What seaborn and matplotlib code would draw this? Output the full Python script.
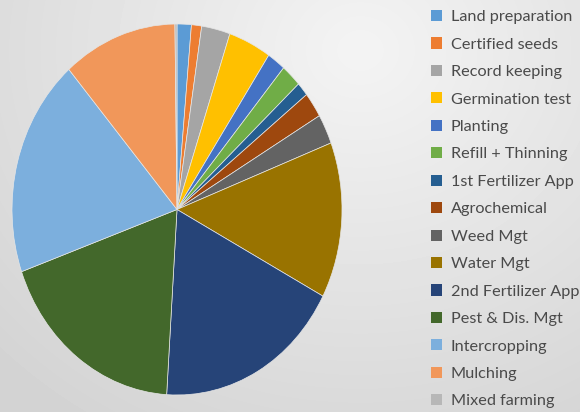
import numpy as np
import matplotlib.pyplot as plt
import matplotlib.patches as mpatches
import seaborn as sns

plt.switch_backend('agg')

activities = ['Land preparation', 'Certified seeds', 'Record keeping', 'Germination test',
              'Planting', 'Refill + Thinning', '1st Fertilizer App', 'Agrochemical',
              'Weed Mgt', 'Water Mgt', '2nd Fertilizer App', 'Pest & Dis. Mgt',
              'Intercropping', 'Mulching', 'Mixed farming']
shares = [1.4, 1.0, 2.8, 4.2, 1.8, 2.0, 1.2, 2.2, 2.6, 13.6, 18.3, 18.6, 19.1, 11.2, 0.2]
colors = ['#5B9BD5', '#ED7D31', '#A5A5A5', '#FFC000', '#4472C4', '#70AD47', '#255E91',
          '#9E480E', '#636363', '#997300', '#264478', '#43682B', '#7CAFDD', '#F1975A', '#B7B7B7']

sns.set_theme(style='white')
plt.rcParams['font.family'] = ['Lato', 'DejaVu Sans']

W, H = 580, 412
fig = plt.figure(figsize=(W / 100, H / 100), dpi=100)

# soft grey background
bg = fig.add_axes([0, 0, 1, 1])
yy, xx = np.mgrid[0:H, 0:W]
d = np.sqrt(((xx - 360) / 520) ** 2 + ((yy - 50) / 460) ** 2)
shade = 0.955 - 0.13 * np.clip(d, 0, 1)
bg.imshow(shade, cmap='gray', vmin=0, vmax=1, aspect='auto', extent=[0, W, H, 0])
bg.axis('off')

ax = fig.add_axes([12 / W, (H - 395) / H, 330 / W, 371 / H])
pal = sns.color_palette(colors)
ax.pie(shares, colors=pal, startangle=90, counterclock=False,
       wedgeprops=dict(linewidth=0.5, edgecolor='#e6e6e6'))
ax.set_aspect('auto')
ax.set_xlim(-1, 1)
ax.set_ylim(-1, 1)
ax.axis('off')

handles = [mpatches.Patch(facecolor=c, edgecolor='none', label=l) for c, l in zip(pal, activities)]
leg = fig.legend(handles=handles, loc='upper left', bbox_to_anchor=(431 / W, 1 - 10 / H),
                 frameon=False, fontsize=11.7, labelspacing=0.81, handlelength=0.68,
                 handleheight=0.68, handletextpad=0.55, borderpad=0, borderaxespad=0)
for t in leg.get_texts():
    t.set_color('#4a4a4a')

fig.savefig('out.png', dpi=100)
